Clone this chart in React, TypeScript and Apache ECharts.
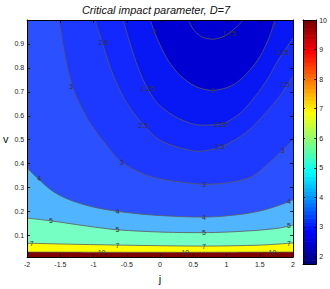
import React, { useEffect, useRef } from "react";
import * as echarts from "echarts";

const TITLE = "Critical impact parameter, D=7";
const X_NAME = "j";
const Y_NAME = "v";
const yTicks = [0.1, 0.2, 0.3, 0.4, 0.5, 0.6, 0.7, 0.8, 0.9];
const cbTicks = [2, 3, 4, 5, 6, 7, 8, 9, 10];
const cbMin = 1.745;
const cbMax = 10;

// contour lines [j, v]
const c1_75 = [[0.423, 1.0], [0.511, 0.957], [0.642, 0.928], [0.803, 0.92], [0.964, 0.932], [1.109, 0.961], [1.255, 1.0]];
const c2 = [[-0.146, 1.0], [-0.088, 0.953], [0.0, 0.896], [0.131, 0.827], [0.307, 0.767], [0.54, 0.722], [0.788, 0.706], [1.08, 0.726], [1.299, 0.775], [1.474, 0.835], [1.606, 0.904], [1.679, 0.957], [1.723, 1.0]];
const c2_25 = [[-0.555, 1.0], [-0.467, 0.916], [-0.365, 0.827], [-0.263, 0.755], [-0.146, 0.694], [-0.015, 0.645], [0.277, 0.589], [0.613, 0.561], [0.905, 0.565], [1.197, 0.609], [1.445, 0.686], [1.62, 0.755], [1.766, 0.827], [2.0, 0.924]];
const c2_5 = [[-0.978, 1.0], [-0.861, 0.896], [-0.73, 0.787], [-0.584, 0.694], [-0.423, 0.621], [-0.248, 0.561], [-0.015, 0.5], [0.277, 0.468], [0.569, 0.452], [0.934, 0.472], [1.299, 0.532], [1.591, 0.613], [1.81, 0.686], [2.0, 0.767]];
const c3 = [[-1.52, 1.0], [-1.46, 0.896], [-1.39, 0.795], [-1.3, 0.706], [-1.18, 0.633], [-1.04, 0.565], [-0.86, 0.496], [-0.58, 0.407], [-0.23, 0.355], [0.04, 0.334], [0.35, 0.322], [0.66, 0.314], [0.93, 0.318], [1.2, 0.33], [1.4, 0.35], [1.59, 0.391], [1.84, 0.456], [2.0, 0.5]];
const c4 = [[-2, 0.383], [-1.854, 0.342], [-1.62, 0.286], [-1.372, 0.25], [-1.036, 0.221], [-0.642, 0.201], [-0.088, 0.185], [0.657, 0.177], [1.226, 0.189], [1.591, 0.209], [1.898, 0.237], [2.0, 0.25]];
const c5 = [[-2, 0.173], [-1.635, 0.161], [-1.109, 0.14], [-0.642, 0.124], [0.058, 0.114], [0.657, 0.112], [1.372, 0.12], [1.81, 0.132], [2.0, 0.144]];
const c7 = [[-2, 0.068], [-1.0, 0.062], [0.66, 0.056], [1.5, 0.06], [2.0, 0.069]];
const c10 = [[-2, 0.031], [0, 0.03], [2, 0.031]];

// contour label positions [j, v, text]
const contourLabels: [number, number, string][] = [
  [1.04, 0.944, "1.75"],
  [-0.09, 0.953, "2"], [0.79, 0.706, "2"], [1.71, 0.977, "2"],
  [-0.19, 0.714, "2.25"], [0.91, 0.565, "2.25"], [1.84, 0.864, "2.25"],
  [-0.85, 0.904, "2.5"], [-0.25, 0.561, "2.5"], [0.9, 0.472, "2.5"], [1.88, 0.73, "2.5"],
  [-1.34, 0.722, "3"], [-0.58, 0.403, "3"], [0.66, 0.314, "3"], [1.84, 0.456, "3"],
  [-1.82, 0.338, "4"], [-0.64, 0.201, "4"], [0.66, 0.177, "4"], [1.94, 0.241, "4"],
  [-1.64, 0.161, "5"], [-0.64, 0.124, "5"], [0.66, 0.112, "5"], [1.94, 0.14, "5"],
  [-1.93, 0.068, "7"], [-0.64, 0.06, "7"], [0.66, 0.056, "7"], [1.94, 0.068, "7"],
  [-0.88, 0.031, "10"], [0.38, 0.031, "10"], [1.69, 0.031, "10"],
];

// lines painted from highest level down; fill = colour of band just below the level
const contourOrder = [
  { line: c10, fill: "#ffff00" },
  { line: c7, fill: "#76ffc2" },
  { line: c5, fill: "#50b4ff" },
  { line: c4, fill: "#2b50ff" },
  { line: c3, fill: "#1d38ff" },
  { line: c2_5, fill: "#1228ff" },
  { line: c2_25, fill: "#0818f4" },
  { line: c2, fill: "#0000d2" },
  { line: c1_75, fill: "#0000d2" },
];
const belowTenColor = "#800000";

function jet(x: number) {
  const c = (v: number) => Math.round(255 * Math.max(0, Math.min(1, v)));
  const r = c(1.5 - Math.abs(4 * x - 3));
  const g = c(1.5 - Math.abs(4 * x - 2));
  const b = c(1.5 - Math.abs(4 * x - 1));
  return `rgb(${r},${g},${b})`;
}

const FONT = "Liberation Sans";

export default function App() {
  const ref = useRef<HTMLDivElement>(null);
  useEffect(() => {
    if (!ref.current) return;
    const chart = echarts.init(ref.current, null, { renderer: "svg" });
    const n = 64;
    const step = (cbMax - cbMin) / n;
    const bands: number[][] = [];
    const bandColors: string[] = [];
    for (let i = 0; i < n; i++) {
      bands.push([cbMin + i * step, cbMin + (i + 1) * step, i]);
      bandColors.push(jet(i / (n - 1)));
    }
    const axisCommon = {
      axisLine: { show: true, onZero: false, lineStyle: { color: "#000", width: 1 } },
      axisTick: { show: true, inside: true, length: 3, lineStyle: { color: "#000", width: 0.8 } },
      splitLine: { show: false },
      z: 10,
    };
    const lblStyle = { fontSize: 7, color: "#222", fontFamily: FONT };
    const option: any = {
      animation: false,
      backgroundColor: "#fff",
      graphic: [
        {
          type: "text",
          x: 156,
          y: 4,
          style: { text: TITLE, font: `italic 11px "${FONT}"`, textAlign: "center", fill: "#111" },
        },
      ],
      grid: [
        { left: 19, right: 37, top: 20, bottom: 25, show: true, backgroundColor: belowTenColor, borderWidth: 0 },
        { left: 303, width: 16, top: 20, height: 244, show: false },
      ],
      xAxis: [
        {
          ...axisCommon, type: "value", gridIndex: 0, position: "bottom", min: -2, max: 2, interval: 0.5,
          axisLabel: { ...lblStyle, margin: 4 },
          name: X_NAME, nameLocation: "middle", nameGap: 14,
          nameTextStyle: { fontSize: 11, fontFamily: FONT, color: "#111" },
        },
        { ...axisCommon, type: "value", gridIndex: 0, position: "top", min: -2, max: 2, interval: 0.5, axisLabel: { show: false } },
        { ...axisCommon, type: "value", gridIndex: 1, position: "bottom", min: 0, max: 1, axisTick: { show: false }, axisLabel: { show: false } },
        { ...axisCommon, type: "value", gridIndex: 1, position: "top", min: 0, max: 1, axisTick: { show: false }, axisLabel: { show: false } },
      ],
      yAxis: [
        {
          ...axisCommon, type: "value", gridIndex: 0, position: "left", min: 0.01, max: 1,
          axisTick: { ...axisCommon.axisTick, customValues: yTicks },
          axisLabel: { ...lblStyle, margin: 3, customValues: yTicks },
          name: Y_NAME, nameLocation: "middle", nameGap: 11, nameRotate: 0,
          nameTextStyle: { fontSize: 11, fontFamily: FONT, color: "#111" },
        },
        {
          ...axisCommon, type: "value", gridIndex: 0, position: "right", min: 0.01, max: 1,
          axisTick: { ...axisCommon.axisTick, customValues: yTicks },
          axisLabel: { show: false },
        },
        {
          ...axisCommon, type: "value", gridIndex: 1, position: "right", min: cbMin, max: cbMax,
          axisTick: { ...axisCommon.axisTick, length: 2, customValues: cbTicks },
          axisLabel: { ...lblStyle, margin: 3, customValues: cbTicks },
        },
        {
          ...axisCommon, type: "value", gridIndex: 1, position: "left", min: cbMin, max: cbMax,
          axisTick: { ...axisCommon.axisTick, length: 2, customValues: cbTicks },
          axisLabel: { show: false },
        },
      ],
      series: [
        ...contourOrder.map((c) => ({
          type: "line",
          xAxisIndex: 0,
          yAxisIndex: 0,
          data: c.line,
          showSymbol: false,
          symbol: "none",
          smooth: 0.3,
          silent: true,
          z: 2,
          lineStyle: { color: "#5a5a5a", width: 0.8 },
          areaStyle: { color: c.fill, opacity: 1, origin: "end" },
        })),
        {
          type: "custom",
          xAxisIndex: 0,
          yAxisIndex: 0,
          data: contourLabels.map((d) => [d[0], d[1]]),
          silent: true,
          z: 5,
          clip: true,
          renderItem: (params: any, api: any) => {
            const p = api.coord([api.value(0), api.value(1)]);
            return {
              type: "text",
              x: p[0],
              y: p[1],
              style: {
                text: contourLabels[params.dataIndex][2],
                font: `7px "${FONT}"`,
                fill: "#333",
                textAlign: "center",
                textVerticalAlign: "middle",
              },
            };
          },
        },
        {
          type: "custom",
          xAxisIndex: 2,
          yAxisIndex: 2,
          data: bands,
          silent: true,
          renderItem: (params: any, api: any) => {
            const p0 = api.coord([0, api.value(0)]);
            const p1 = api.coord([1, api.value(1)]);
            return {
              type: "rect",
              shape: { x: p0[0], y: p1[1], width: p1[0] - p0[0], height: p0[1] - p1[1] + 0.6 },
              style: { fill: bandColors[api.value(2)] },
            };
          },
        },
      ],
    };
    chart.setOption(option);
    return () => chart.dispose();
  }, []);
  return (
    <div
      ref={ref}
      style={{ position: "fixed", left: 0, top: 0, width: 330, height: 289 }}
    />
  );
}
